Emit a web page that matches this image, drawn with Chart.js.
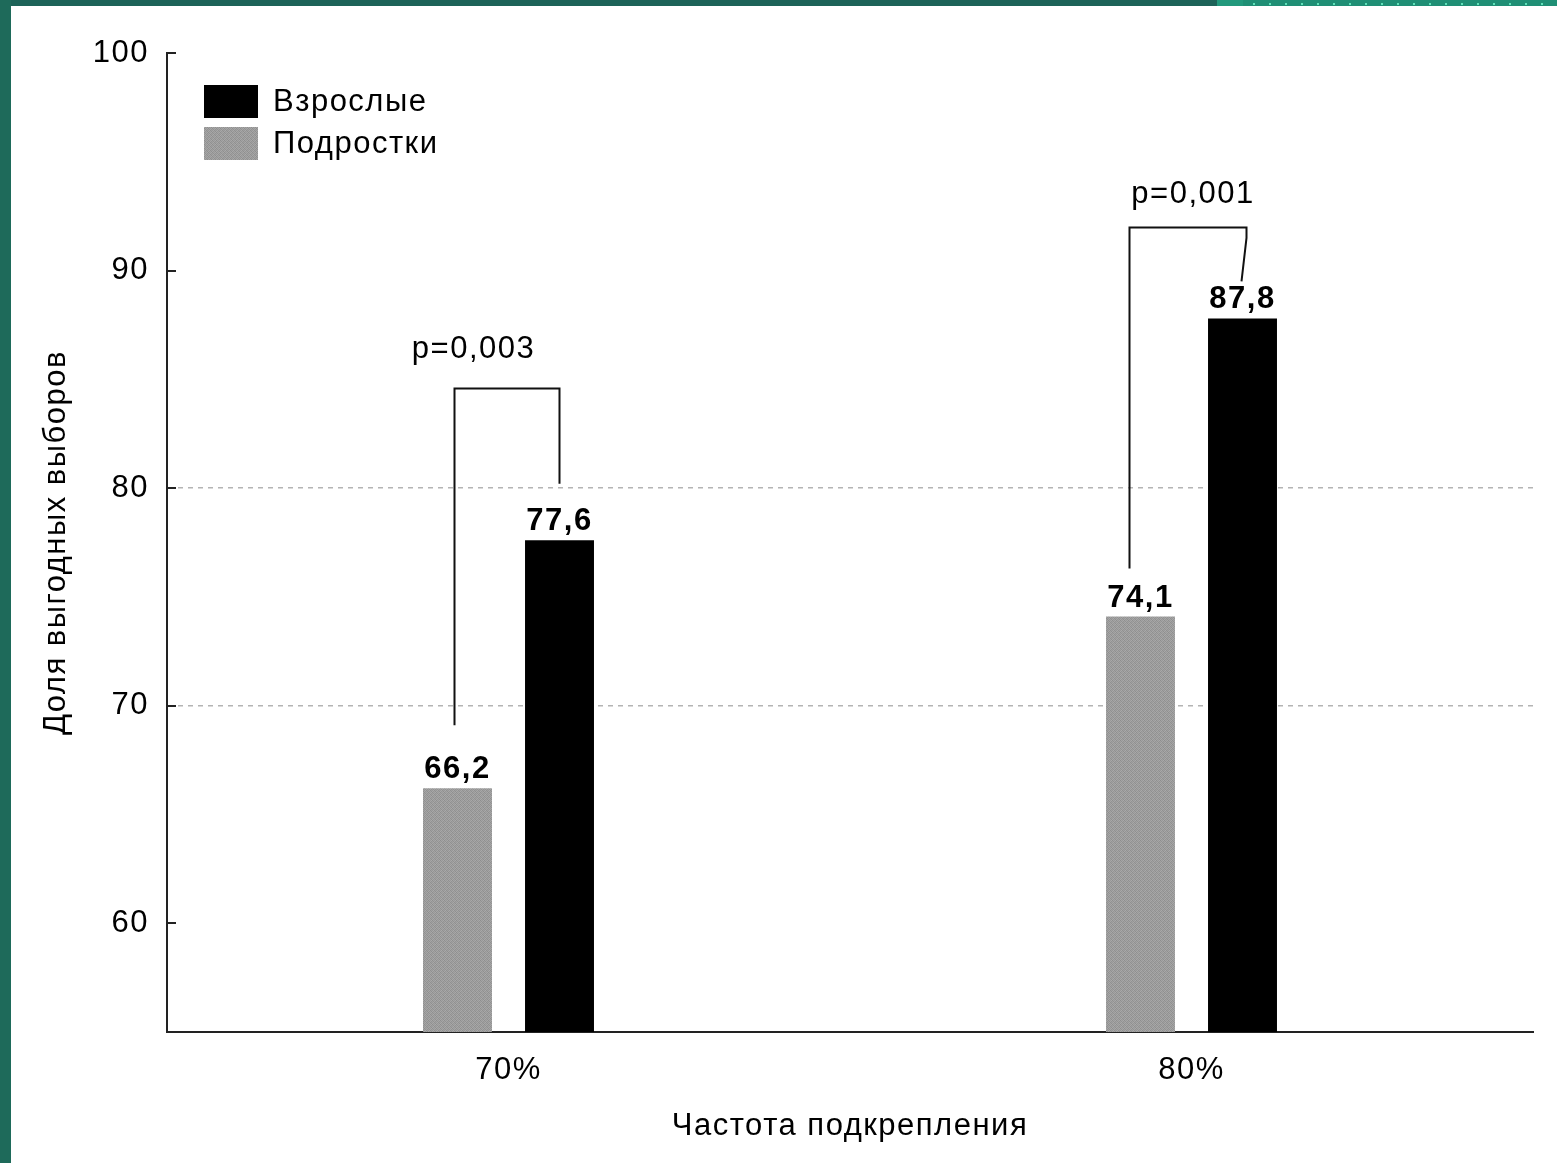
<!DOCTYPE html>
<html lang="ru">
<head>
<meta charset="utf-8">
<title>Доля выгодных выборов</title>
<script src="https://cdn.jsdelivr.net/npm/chart.js@4.4.1/dist/chart.umd.min.js"></script>
<style>
  html, body { margin: 0; padding: 0; background: #ffffff; }
  body { width: 1557px; height: 1163px; position: relative; overflow: hidden; font-family: "Liberation Sans", Arial, sans-serif; }
  #wrap { position: absolute; left: 0; top: 0; width: 1557px; height: 1163px; }
  .band-top { position: absolute; left: 0; top: 0; width: 1217px; height: 6px; background: #1d6358; }
  .band-top2 { position: absolute; left: 1217px; top: 0; width: 26px; height: 6px; background: #22997c; }
  .band-top3 { position: absolute; left: 1243px; top: 0; width: 314px; height: 6px; background: #1f8f75;
    background-image: radial-gradient(circle, #5fe0b8 0 1px, transparent 1.5px); background-size: 16px 6px; background-position: 3px 1px; }
  .band-left { position: absolute; left: 0; top: 0; width: 11px; height: 1163px; background: #1e6a5a; }
</style>
</head>
<body>
<div id="wrap"><canvas id="chart" width="1557" height="1163"></canvas></div>
<div class="band-top"></div><div class="band-top2"></div><div class="band-top3"></div>
<div class="band-left"></div>
<script>
// Reinforcement frequency groups
const categories = ['70%', '80%'];
// Share of advantageous choices, %
const teens  = [66.2, 74.1];   // Подростки
const adults = [77.6, 87.8];   // Взрослые
// Value axis ticks
const yTicks = [60, 70, 80, 90, 100];
const dashedLevels = [70, 80];

// Significance brackets: levels in axis units
const brackets = [
  { group: 0, p: 'p=0,003', top: 84.6, leftEnd: 69.1, rightEnd: 80.2, rightBend: null, labelAt: 86.0 },
  { group: 1, p: 'p=0,001', top: 92.0, leftEnd: 76.3, rightEnd: 89.5, rightBend: 91.5, labelAt: 93.1 }
];
// Horizontal nudges of the bracket legs relative to the bar centres (px)
const bracketNudge = [
  { left: -3, right: -1, label: -35, rightTip: -1 },
  { left: -11, right: 3, label: 1.5, rightTip: -2 }
];

const FONT = '"Liberation Sans", Arial, sans-serif';
const FS = 31;
const SPACING = '1.5px';

// Fine grey texture for the teen bars
function greyPattern() {
  const c = document.createElement('canvas');
  c.width = 4; c.height = 4;
  const g = c.getContext('2d');
  const shades = ['#8e8e8e', '#a4a4a4', '#999999', '#a9a9a9',
                  '#a2a2a2', '#929292', '#a6a6a6', '#939393',
                  '#979797', '#aaaaaa', '#909090', '#a0a0a0',
                  '#a8a8a8', '#959595', '#a3a3a3', '#8f8f8f'];
  for (let i = 0; i < 16; i++) { g.fillStyle = shades[i]; g.fillRect(i % 4, Math.floor(i / 4), 1, 1); }
  return g.createPattern(c, 'repeat');
}
const grey = greyPattern();

// Slightly wider text tracking for every label on the canvas
const spacingPlugin = {
  id: 'spacing',
  beforeUpdate(chart) { chart.ctx.letterSpacing = SPACING; },
  beforeDraw(chart) { chart.ctx.letterSpacing = SPACING; }
};

const decorPlugin = {
  id: 'decor',
  afterDatasetsDraw(chart) {
    const ctx = chart.ctx;
    const ys = chart.scales.y;
    const area = chart.chartArea;
    ctx.save();
    ctx.letterSpacing = SPACING;

    // inward tick marks on the value axis
    ctx.strokeStyle = '#222';
    ctx.lineWidth = 2;
    yTicks.forEach(v => {
      const y = Math.round(ys.getPixelForValue(v));
      ctx.beginPath(); ctx.moveTo(area.left, y); ctx.lineTo(area.left + 9, y); ctx.stroke();
    });

    // value labels above bars
    ctx.fillStyle = '#000';
    ctx.font = 'bold ' + FS + 'px ' + FONT;
    ctx.textAlign = 'center';
    ctx.textBaseline = 'bottom';
    chart.data.datasets.forEach((ds, di) => {
      chart.getDatasetMeta(di).data.forEach((bar, i) => {
        ctx.fillText(ds.data[i].toFixed(1).replace('.', ','), bar.x, bar.y - 3);
      });
    });

    // significance brackets
    const teenMeta = chart.getDatasetMeta(0).data;
    const adultMeta = chart.getDatasetMeta(1).data;
    ctx.strokeStyle = '#111';
    ctx.lineWidth = 2;
    ctx.font = FS + 'px ' + FONT;
    ctx.textBaseline = 'alphabetic';
    brackets.forEach((b, k) => {
      const n = bracketNudge[k];
      const xl = Math.round(teenMeta[b.group].x + n.left) + 0.5;
      const xr = Math.round(adultMeta[b.group].x + n.right) + 0.5;
      const yt = Math.round(ys.getPixelForValue(b.top)) + 0.5;
      ctx.beginPath();
      ctx.moveTo(xl, ys.getPixelForValue(b.leftEnd));
      ctx.lineTo(xl, yt);
      ctx.lineTo(xr, yt);
      if (b.rightBend !== null) {
        ctx.lineTo(xr, ys.getPixelForValue(b.rightBend));
        ctx.lineTo(xr + n.rightTip * 2.5, ys.getPixelForValue(b.rightEnd));
      } else {
        ctx.lineTo(xr, ys.getPixelForValue(b.rightEnd));
      }
      ctx.stroke();
      const cx = chart.scales.x.getPixelForValue(b.group) + n.label;
      ctx.fillText(b.p, cx, ys.getPixelForValue(b.labelAt));
    });

    // legend in the upper-left corner of the plot
    const items = [chart.data.datasets[1], chart.data.datasets[0]];
    ctx.textAlign = 'left';
    ctx.textBaseline = 'middle';
    ctx.font = FS + 'px ' + FONT;
    items.forEach((ds, i) => {
      const bx = area.left + 37;
      const by = area.top + 32 + i * 42;
      ctx.fillStyle = ds.backgroundColor;
      ctx.fillRect(bx, by, 54, 33);
      ctx.fillStyle = '#000';
      ctx.fillText(ds.label, bx + 69, by + 17);
    });
    ctx.restore();
  }
};

new Chart(document.getElementById('chart'), {
  type: 'bar',
  data: {
    labels: categories,
    datasets: [
      { label: 'Подростки', data: teens, backgroundColor: grey, categoryPercentage: 0.2987, barPercentage: 0.676 },
      { label: 'Взрослые', data: adults, backgroundColor: '#000000', categoryPercentage: 0.2987, barPercentage: 0.676 }
    ]
  },
  options: {
    responsive: false,
    animation: false,
    layout: { padding: { left: 0, right: 24, top: 53, bottom: 0 } },
    plugins: { legend: { display: false }, tooltip: { enabled: false } },
    scales: {
      x: {
        afterFit(scale) { scale.height = 131; },
        grid: { display: false, drawTicks: false },
        border: { display: true, color: '#222', width: 2 },
        ticks: { color: '#000', font: { family: FONT, size: FS }, padding: 20 },
        title: { display: true, text: 'Частота подкрепления', color: '#000',
                 font: { family: FONT, size: FS }, padding: { top: 0, bottom: 18 } }
      },
      y: {
        min: 55, max: 100,
        afterFit(scale) { scale.width = 167; },
        afterBuildTicks(scale) { scale.ticks = yTicks.map(v => ({ value: v })); },
        grid: {
          drawTicks: false,
          color: ctx => dashedLevels.includes(ctx.tick && ctx.tick.value) ? '#b4b4b4' : 'rgba(0,0,0,0)',
          lineWidth: 1.5
        },
        border: { display: true, color: '#222', width: 2, dash: [5, 5] },
        ticks: { color: '#000', font: { family: FONT, size: FS }, padding: 18 },
        title: { display: true, text: 'Доля выгодных выборов', color: '#000',
                 font: { family: FONT, size: FS }, padding: { top: 38, bottom: 0 } }
      }
    }
  },
  plugins: [spacingPlugin, decorPlugin]
});
</script>
</body>
</html>
